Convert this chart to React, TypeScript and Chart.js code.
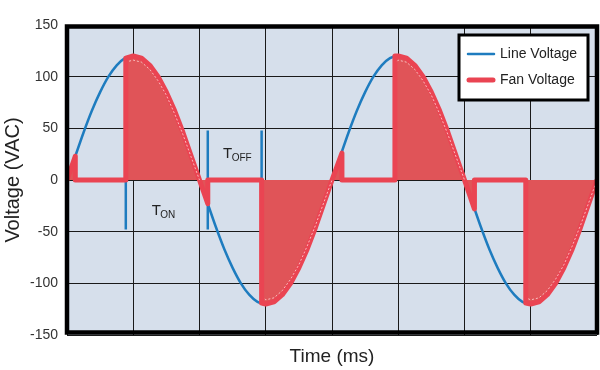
import React, { useEffect, useRef } from "react";
import { Chart, registerables } from "chart.js";
Chart.register(...registerables);

// ---- data ----
const gridTimes = [0, 4, 8, 12, 16, 20, 24, 28, 32];
const voltTicks = [-150, -100, -50, 0, 50, 100, 150];

const lineTime = [
  0, 0.5, 1, 1.5, 2, 2.5, 3, 3.5, 4, 4.5, 5, 5.5, 6, 6.5, 7, 7.5,
  8, 8.5, 9, 9.5, 10, 10.5, 11, 11.5, 12, 12.5, 13, 13.5, 14, 14.5, 15, 15.5,
  16, 16.5, 17, 17.5, 18, 18.5, 19, 19.5, 20, 20.5, 21, 21.5, 22, 22.5, 23, 23.5,
  24, 24.5, 25, 25.5, 26, 26.5, 27, 27.5, 28, 28.5, 29, 29.5, 30, 30.5, 31, 31.5,
  32,
];
const lineVolt = [
  0, 23, 46, 67, 85, 100, 111, 118, 120, 118, 111, 100, 85, 67, 46, 23,
  0, -23, -46, -67, -85, -100, -111, -118, -120, -118, -111, -100, -85, -67, -46, -23,
  0, 23, 46, 67, 85, 100, 111, 118, 120, 118, 111, 100, 85, 67, 46, 23,
  0, -23, -46, -67, -85, -100, -111, -118, -120, -118, -111, -100, -85, -67, -46, -23,
  0,
];

const fanTime = [
  0, 0.5, 0.5, 3.55, 3.55, 4, 4.5, 5, 5.5, 6, 6.5, 7, 7.5, 8, 8.5, 8.5,
  11.75, 11.75, 12, 12.5, 13, 13.5, 14, 14.5, 15, 15.5, 16, 16.6, 16.6,
  19.8, 19.8, 20, 20.5, 21, 21.5, 22, 22.5, 23, 23.5, 24, 24.6, 24.6,
  27.7, 27.7, 28, 28.5, 29, 29.5, 30, 30.5, 31, 31.5, 32,
];
const fanVolt = [
  0, 23, 0, 0, 118, 120, 118, 111, 100, 85, 67, 46, 23, 0, -23, 0,
  0, -119, -120, -118, -111, -100, -85, -67, -46, -23, 0, 26, 0,
  0, 120, 120, 118, 111, 100, 85, 67, 46, 23, 0, -28, 0,
  0, -119, -120, -118, -111, -100, -85, -67, -46, -23, 0,
];

// faint light streak visible inside each shaded lobe (null = break)
const glintTime = [
  3.75, 4, 4.5, 5, 5.5, 6, 6.5, 7, 7.5, 8, 8.1,
  11.95, 12, 12.5, 13, 13.5, 14, 14.5, 15, 15.5, 16, 16.1,
  19.95, 20, 20.5, 21, 21.5, 22, 22.5, 23, 23.5, 24, 24.1,
  27.85, 28, 28.5, 29, 29.5, 30, 30.5, 31, 31.5, 32,
];
const glintVolt = [
  115, 116, 114, 107, 96, 82, 64, 44, 22, 0, null,
  -115, -116, -114, -107, -96, -82, -64, -44, -22, 0, null,
  115, 116, 114, 107, 96, 82, 64, 44, 22, 0, null,
  -115, -116, -114, -107, -96, -82, -64, -44, -22, 0,
];

const markerTime = [3.55, 8.5, 11.75];
const markerTop = [0, 48, 48];
const markerBottom = [-48, -48, 0];

const legendLabels = ["Line Voltage", "Fan Voltage"];
const annotations = [
  { main: "T", sub: "ON", t: 5.11, v: -34 },
  { main: "T", sub: "OFF", t: 9.42, v: 21 },
];

const BLUE = "#1e7cbf";
const RED = "#ea4452";
const FILL = "#e05458";
const FONT = "'Liberation Sans', Arial, Helvetica, sans-serif";

export default function App() {
  const ref = useRef<HTMLCanvasElement | null>(null);

  useEffect(() => {
    document.body.style.margin = "0";
    const canvas = ref.current;
    if (!canvas) return;

    const bgPlugin = {
      id: "plotBg",
      beforeDraw(chart: any) {
        const { ctx, chartArea } = chart;
        ctx.save();
        ctx.fillStyle = "#d6dfeb";
        ctx.fillRect(chartArea.left, chartArea.top, chartArea.right - chartArea.left, chartArea.bottom - chartArea.top);
        ctx.restore();
      },
    };

    const framePlugin = {
      id: "frame",
      afterDatasetsDraw(chart: any) {
        const { ctx, chartArea } = chart;
        const { left, top, right, bottom } = chartArea;
        ctx.save();
        ctx.strokeStyle = "#000";
        ctx.lineWidth = 4.5;
        ctx.strokeRect(left, top + 1.5, right - left, bottom - 2.5 - (top + 1.5));
        ctx.restore();

        const xs = chart.scales.x;
        const ys = chart.scales.y;
        ctx.save();
        ctx.fillStyle = "#222";
        ctx.textBaseline = "alphabetic";
        ctx.textAlign = "left";
        for (const a of annotations) {
          const px = xs.getPixelForValue(a.t);
          const py = ys.getPixelForValue(a.v);
          ctx.font = `15px ${FONT}`;
          ctx.fillText(a.main, px, py);
          const w = ctx.measureText(a.main).width;
          ctx.font = `10px ${FONT}`;
          ctx.fillText(a.sub, px + w - 0.5, py + 2.5);
        }
        ctx.restore();
      },
      afterDraw(chart: any) {
        const { ctx } = chart;
        ctx.save();
        ctx.fillStyle = "#fff";
        ctx.fillRect(459, 35, 129, 65);
        ctx.strokeStyle = "#000";
        ctx.lineWidth = 3;
        ctx.strokeRect(459, 35, 129, 65);
        ctx.lineCap = "round";
        ctx.strokeStyle = BLUE;
        ctx.lineWidth = 2.5;
        ctx.beginPath();
        ctx.moveTo(468, 54);
        ctx.lineTo(494, 54);
        ctx.stroke();
        ctx.strokeStyle = RED;
        ctx.lineWidth = 5;
        ctx.beginPath();
        ctx.moveTo(469, 80);
        ctx.lineTo(493, 80);
        ctx.stroke();
        ctx.fillStyle = "#222";
        ctx.font = `14px ${FONT}`;
        ctx.textBaseline = "middle";
        ctx.fillText(legendLabels[0], 500, 54);
        ctx.fillText(legendLabels[1], 500, 80);
        ctx.restore();
      },
    };

    const markerSets = markerTime.map((t, i) => ({
      label: "marker" + i,
      data: [
        { x: t, y: markerTop[i] },
        { x: t, y: markerBottom[i] },
      ],
      borderColor: BLUE,
      borderWidth: 2.5,
      pointRadius: 0,
      fill: false,
      order: 3,
    }));

    const chart = new Chart(canvas, {
      type: "line",
      data: {
        datasets: [
          {
            label: "glint",
            data: glintTime.map((t, i) => ({ x: t, y: glintVolt[i] })),
            borderColor: "rgba(255,215,215,0.8)",
            borderWidth: 1,
            borderDash: [2, 2],
            pointRadius: 0,
            fill: false,
            spanGaps: false,
            tension: 0,
            order: -1,
          },
          {
            label: legendLabels[1],
            data: fanTime.map((t, i) => ({ x: t, y: fanVolt[i] })),
            borderColor: RED,
            backgroundColor: FILL,
            borderWidth: 5,
            borderJoinStyle: "round",
            borderCapStyle: "round",
            pointRadius: 0,
            fill: "origin",
            tension: 0,
            order: 0,
          },
          {
            label: legendLabels[0],
            data: lineTime.map((t, i) => ({ x: t, y: lineVolt[i] })),
            borderColor: BLUE,
            borderWidth: 2.5,
            pointRadius: 0,
            fill: false,
            tension: 0.3,
            order: 1,
          },
          ...markerSets,
        ] as any,
      },
      options: {
        responsive: false,
        animation: false,
        layout: { padding: { top: 25, right: 3, left: 0, bottom: 0 } },
        plugins: { legend: { display: false }, tooltip: { enabled: false } },
        scales: {
          x: {
            type: "linear",
            min: 0,
            max: 32,
            afterBuildTicks: (s: any) => {
              s.ticks = gridTimes.map((v) => ({ value: v }));
            },
            afterFit: (s: any) => {
              s.height = 35;
            },
            ticks: { display: false },
            grid: { color: "#1a1a1a", lineWidth: 1, drawTicks: false },
            border: { display: false },
            title: {
              display: true,
              text: "Time (ms)",
              color: "#222",
              font: { family: FONT, size: 19 },
              padding: { top: 0, bottom: 2 },
            },
          },
          y: {
            type: "linear",
            min: -150,
            max: 150,
            afterBuildTicks: (s: any) => {
              s.ticks = voltTicks.map((v) => ({ value: v }));
            },
            afterFit: (s: any) => {
              s.width = 67;
            },
            ticks: {
              color: "#333",
              font: { family: FONT, size: 14 },
              padding: 9,
            },
            grid: { color: "#1a1a1a", lineWidth: 1, drawTicks: false },
            border: { display: false },
            title: {
              display: true,
              text: "Voltage (VAC)",
              color: "#222",
              font: { family: FONT, size: 20 },
              padding: { top: 1, bottom: 0 },
            },
          },
        },
      } as any,
      plugins: [bgPlugin, framePlugin],
    });

    return () => chart.destroy();
  }, []);

  return (
    <div style={{ width: 600, height: 370 }}>
      <canvas ref={ref} width={600} height={370} />
    </div>
  );
}
